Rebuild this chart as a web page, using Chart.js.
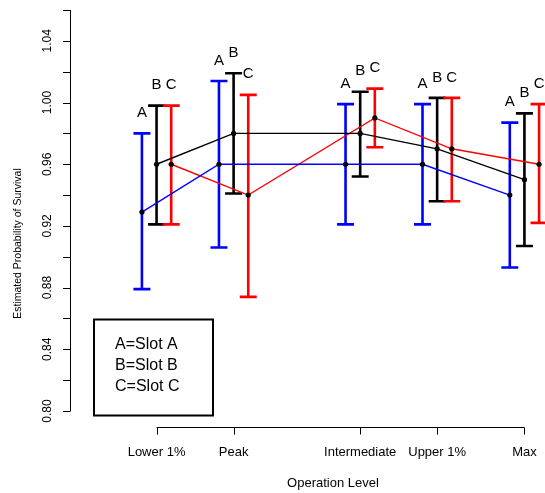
<!DOCTYPE html>
<html>
<head>
<meta charset="utf-8">
<script src="https://cdn.jsdelivr.net/npm/chart.js@4/dist/chart.umd.min.js"></script>
<style>
html,body{margin:0;padding:0;background:#fff;}
#wrap{width:545px;height:493px;position:relative;}
</style>
</head>
<body>
<div id="wrap"><canvas id="c" width="545" height="493"></canvas></div>
<script>
// ---- data ----
const levels = ['Lower 1%', 'Peak', 'Intermediate', 'Upper 1%', 'Max'];
const levelPos = [1, 2, 3.643, 4.642, 5.775];
const slotNames = ['A', 'B', 'C'];
const slotLabels = ['A=Slot A', 'B=Slot B', 'C=Slot C'];
const slotColors = ['#0000FF', '#000000', '#FF0000'];
const slotOffsets = [-0.19, 0, 0.19];

const estA = [0.929, 0.960, 0.960, 0.960, 0.940];
const lowA = [0.879, 0.906, 0.921, 0.921, 0.893];
const upA  = [0.980, 1.014, 0.999, 0.999, 0.987];

const estB = [0.960, 0.980, 0.980, 0.970, 0.950];
const lowB = [0.921, 0.941, 0.952, 0.936, 0.907];
const upB  = [0.998, 1.019, 1.007, 1.003, 0.993];

const estC = [0.960, 0.940, 0.990, 0.970, 0.960];
const lowC = [0.921, 0.874, 0.971, 0.936, 0.922];
const upC  = [0.998, 1.005, 1.009, 1.003, 0.999];

const yTicks = [0.80, 0.82, 0.84, 0.86, 0.88, 0.90, 0.92, 0.94, 0.96, 0.98, 1.00, 1.02, 1.04, 1.06];
const yTickLabels = ['0.80', '', '0.84', '', '0.88', '', '0.92', '', '0.96', '', '1.00', '', '1.04', ''];

const ests = [estA, estB, estC];
const lows = [lowA, lowB, lowC];
const ups = [upA, upB, upC];

const FONT = '"Liberation Sans", Arial, Helvetica, sans-serif';

const datasets = slotNames.map((s, k) => ({
  label: s,
  data: ests[k].map((v, i) => ({x: levelPos[i] + slotOffsets[k], y: v})),
  borderColor: slotColors[k],
  backgroundColor: '#000',
  borderWidth: 1.4,
  pointRadius: 2.6,
  pointBackgroundColor: '#000',
  pointBorderColor: '#000',
  pointBorderWidth: 0,
  tension: 0,
  clip: false
}));

const rPlugin = {
  id: 'rstyle',
  beforeDatasetsDraw(chart) {
    const ctx = chart.ctx, xs = chart.scales.x, ys = chart.scales.y;
    ctx.save();
    ctx.lineWidth = 2.6;
    ctx.lineCap = 'butt';
    slotNames.forEach((s, k) => {
      ctx.strokeStyle = slotColors[k];
      levelPos.forEach((p, i) => {
        const x = xs.getPixelForValue(p + slotOffsets[k]);
        const yl = ys.getPixelForValue(lows[k][i]);
        const yu = ys.getPixelForValue(ups[k][i]);
        ctx.beginPath();
        ctx.moveTo(x, yl); ctx.lineTo(x, yu);
        ctx.moveTo(x - 8.5, yl); ctx.lineTo(x + 8.5, yl);
        ctx.moveTo(x - 8.5, yu); ctx.lineTo(x + 8.5, yu);
        ctx.stroke();
      });
    });
    ctx.restore();
  },
  afterDraw(chart) {
    const ctx = chart.ctx, xs = chart.scales.x, ys = chart.scales.y;
    ctx.save();
    // slot letters above the upper caps
    ctx.fillStyle = '#000';
    ctx.font = '15px ' + FONT;
    ctx.textAlign = 'center';
    ctx.textBaseline = 'middle';
    slotNames.forEach((s, k) => {
      levelPos.forEach((p, i) => {
        const x = xs.getPixelForValue(p + slotOffsets[k]);
        const y = ys.getPixelForValue(ups[k][i]) - 20.5;
        ctx.fillText(s, x, y);
      });
    });

    // y axis
    const axX = chart.chartArea.left;
    ctx.strokeStyle = '#000';
    ctx.lineWidth = 1;
    ctx.beginPath();
    ctx.moveTo(axX + 0.5, ys.getPixelForValue(yTicks[0]));
    ctx.lineTo(axX + 0.5, ys.getPixelForValue(yTicks[yTicks.length - 1]));
    yTicks.forEach(v => {
      const y = Math.round(ys.getPixelForValue(v)) + 0.5;
      ctx.moveTo(axX - 7, y); ctx.lineTo(axX + 0.5, y);
    });
    ctx.stroke();
    ctx.font = '12px ' + FONT;
    yTicks.forEach((v, i) => {
      if (!yTickLabels[i]) return;
      const y = ys.getPixelForValue(v);
      ctx.save();
      ctx.translate(48, y);
      ctx.rotate(-Math.PI / 2);
      ctx.textAlign = 'center';
      ctx.textBaseline = 'middle';
      ctx.fillText(yTickLabels[i], 0, 0);
      ctx.restore();
    });

    // x axis (detached, R style)
    const axY = 427.5;
    ctx.beginPath();
    ctx.moveTo(xs.getPixelForValue(levelPos[0]), axY);
    ctx.lineTo(xs.getPixelForValue(levelPos[levelPos.length - 1]), axY);
    levelPos.forEach(p => {
      const x = Math.round(xs.getPixelForValue(p)) + 0.5;
      ctx.moveTo(x, axY); ctx.lineTo(x, axY + 7);
    });
    ctx.stroke();
    ctx.font = '13px ' + FONT;
    ctx.textAlign = 'center';
    ctx.textBaseline = 'middle';
    levelPos.forEach((p, i) => {
      ctx.fillText(levels[i], xs.getPixelForValue(p), 452);
    });
    ctx.fillText('Operation Level', 333, 483);

    // y title
    ctx.save();
    ctx.translate(18, 243.5);
    ctx.rotate(-Math.PI / 2);
    ctx.font = '10.5px ' + FONT;
    ctx.fillText('Estimated Probability of Survival', 0, 0);
    ctx.restore();

    // legend box
    ctx.lineWidth = 2;
    ctx.strokeRect(94, 319.5, 119, 96);
    ctx.font = '16px ' + FONT;
    ctx.textAlign = 'left';
    slotLabels.forEach((t, i) => {
      ctx.fillText(t, 115, 344.5 + i * 20.8);
    });
    ctx.restore();
  }
};

new Chart(document.getElementById('c'), {
  type: 'line',
  data: { datasets },
  options: {
    responsive: false,
    animation: false,
    devicePixelRatio: 1,
    layout: { padding: { left: 70, right: 0, top: 10, bottom: 82 } },
    plugins: { legend: { display: false }, tooltip: { enabled: false } },
    scales: {
      x: { type: 'linear', min: -0.1236, max: 5.99, display: false },
      y: { type: 'linear', min: 0.80, max: 1.06, display: false }
    }
  },
  plugins: [rPlugin]
});
</script>
</body>
</html>
